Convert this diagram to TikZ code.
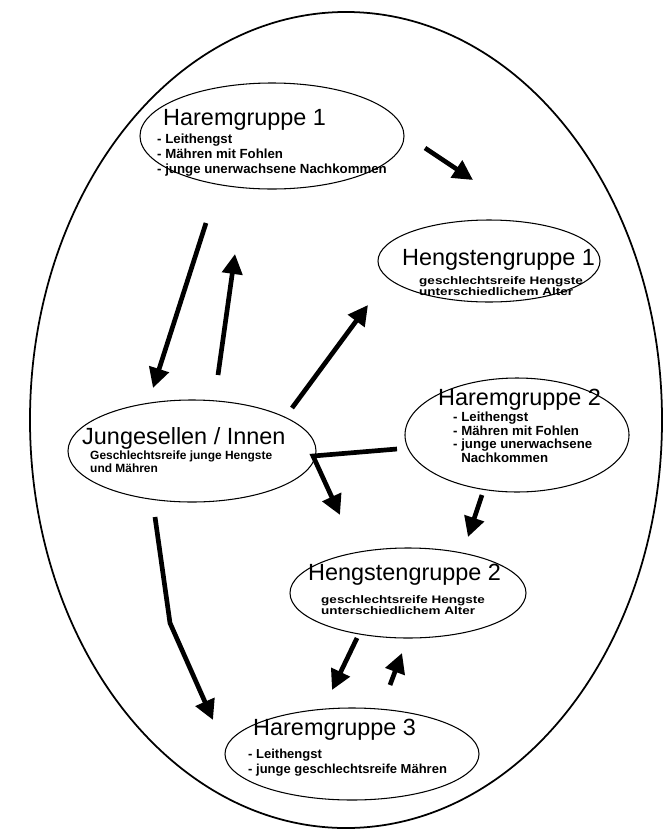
\documentclass[tikz,border=0pt]{standalone}
\usepackage{fontspec}
\setmainfont{Liberation Sans}
\newfontfamily\hengstfont[FakeStretch=1.24]{Liberation Sans}
\usetikzlibrary{shapes, arrows.meta}

\tikzset{
    gruppe/.style={draw, ellipse, line width=0.9pt, inner sep=0pt},
    titel/.style={anchor=base west, inner sep=0pt, font=\fontsize{20}{24}\selectfont},
    liste/.style={anchor=base west, inner sep=0pt, align=left, font=\fontsize{11.3}{12.4}\selectfont\bfseries},
    hliste/.style={anchor=base west, inner sep=0pt, align=left, font=\hengstfont\fontsize{9.3}{9.2}\selectfont\bfseries},
    pfeil/.style={line width=4pt, -{Triangle[length=17pt, width=17pt]}},
}

\begin{document}
\begin{tikzpicture}[x=0.03cm, y=-0.03cm]
    \useasboundingbox (0, 0) rectangle (664, 832);

    \node [gruppe, line width=1.5pt, minimum width=18.96cm, minimum height=24.48cm] (gehege) at (346, 420) {};

    \node [gruppe, minimum width=7.92cm, minimum height=3.18cm] (harem1) at (272, 136) {};
    \node [gruppe, minimum width=6.66cm, minimum height=2.46cm] (hengst1) at (489, 261) {};
    \node [gruppe, minimum width=7.44cm, minimum height=3.06cm] (jung) at (192, 451) {};
    \node [gruppe, minimum width=6.72cm, minimum height=3.42cm] (harem2) at (517, 435) {};
    \node [gruppe, minimum width=7.08cm, minimum height=2.70cm] (hengst2) at (408, 593) {};
    \node [gruppe, minimum width=7.62cm, minimum height=2.76cm] (harem3) at (352, 754) {};

    % lists: base anchor sits on the last line
    \node [titel] (harem1titel) at (163, 125) {Haremgruppe 1};
    \node [liste] (harem1liste) at (157, 173) {- Leithengst\\- Mähren mit Fohlen\\- junge unerwachsene Nachkommen};

    \node [titel] (hengst1titel) at (402, 265) {Hengstengruppe 1};
    \node [hliste] (hengst1liste) at (419, 295) {geschlechtsreife Hengste\\unterschiedlichem Alter};

    \node [titel] (jungtitel) at (82, 444) {Jungesellen / Innen};
    \node [liste, font=\fontsize{10.2}{11.1}\selectfont\bfseries] (jungliste) at (90, 472) {Geschlechtsreife junge Hengste\\und Mähren};

    \node [titel] (harem2titel) at (438, 405) {Haremgruppe 2};
    \node [liste, font=\fontsize{11.3}{11.4}\selectfont\bfseries] (harem2liste) at (453, 462) {- Leithengst\\- Mähren mit Fohlen\\- junge unerwachsene\\\phantom{- }Nachkommen};

    \node [titel] (hengst2titel) at (308, 580) {Hengstengruppe 2};
    \node [hliste] (hengst2liste) at (321, 614) {geschlechtsreife Hengste\\unterschiedlichem Alter};

    \node [titel] (harem3titel) at (253, 735) {Haremgruppe 3};
    \node [liste, font=\fontsize{11.1}{12}\selectfont\bfseries] (harem3liste) at (248, 773) {- Leithengst\\- junge geschlechtsreife Mähren};

    \coordinate (harem1ab) at (425, 148);
    \coordinate (hengst1an) at (473, 180);
    \coordinate (harem1runter) at (206, 223);
    \coordinate (jungan) at (153, 388);
    \coordinate (jungab) at (218, 375);
    \coordinate (harem1an) at (235, 254);
    \coordinate (jungrechts) at (292, 408);
    \coordinate (hengst1links) at (368, 305);
    \coordinate (harem2links) at (397, 449);
    \coordinate (knoten) at (313, 456);
    \coordinate (hengst2oben) at (340, 515);
    \coordinate (harem2ab) at (482, 495);
    \coordinate (hengst2an) at (468, 537);
    \coordinate (hengst2ab) at (357, 638);
    \coordinate (harem3an) at (332, 690);
    \coordinate (harem3ab) at (390, 685);
    \coordinate (hengst2unten) at (402, 653);
    \coordinate (jungunten) at (155, 517);
    \coordinate (knick) at (170, 623);
    \coordinate (harem3links) at (213, 720);

    \draw [pfeil] (harem1ab) -- (hengst1an);
    \draw [pfeil] (harem1runter) -- (jungan);
    \draw [pfeil] (jungab) -- (harem1an);
    \draw [pfeil] (jungrechts) -- (hengst1links);
    \draw [pfeil] (harem2links) -- (knoten) -- (hengst2oben);
    \draw [pfeil] (harem2ab) -- (hengst2an);
    \draw [pfeil] (hengst2ab) -- (harem3an);
    \draw [pfeil] (harem3ab) -- (hengst2unten);
    \draw [pfeil] (jungunten) -- (knick) -- (harem3links);
\end{tikzpicture}
\end{document}
